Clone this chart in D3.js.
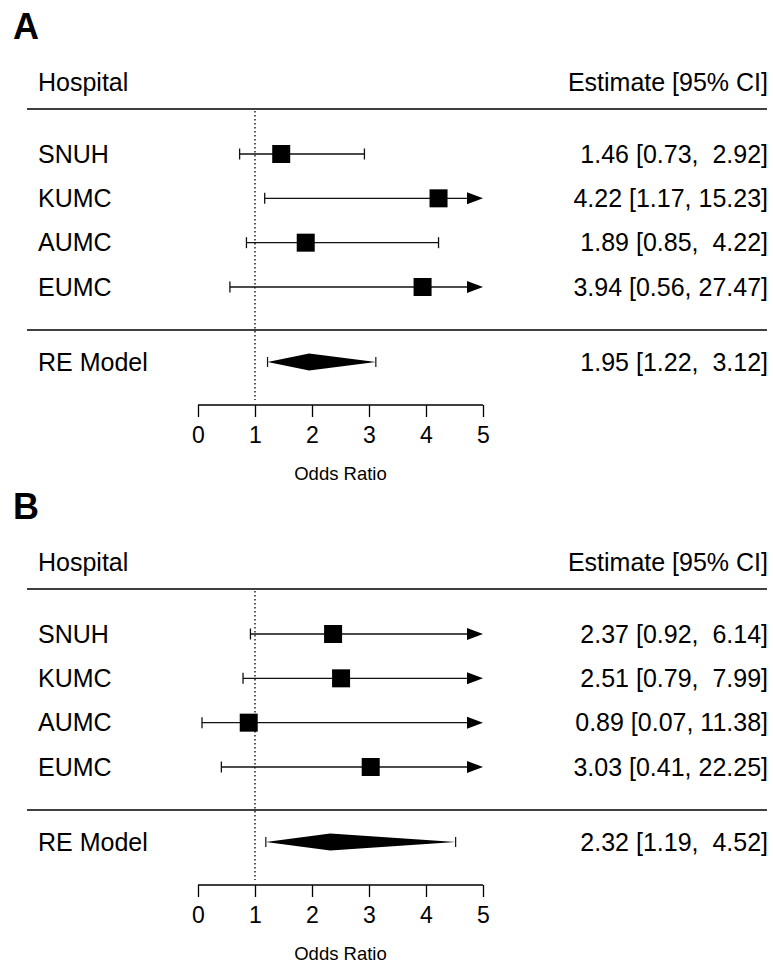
<!DOCTYPE html>
<html>
<head>
<meta charset="utf-8">
<script src="https://cdn.jsdelivr.net/npm/d3@7"></script>
<style>
  body { margin: 0; background: #fff; }
  text { font-family: "Liberation Sans", Arial, sans-serif; fill: #000; white-space: pre; }
</style>
</head>
<body>
<svg id="chart" width="773" height="963"></svg>
<script>
// Data
var hospitals = ["SNUH", "KUMC", "AUMC", "EUMC"]
var panelLabels = ["A", "B"]
var estA = [1.46, 4.22, 1.89, 3.94]
var lowA = [0.73, 1.17, 0.85, 0.56]
var highA = [2.92, 15.23, 4.22, 27.47]
var reA = [1.95, 1.22, 3.12]
var estB = [2.37, 2.51, 0.89, 3.03]
var lowB = [0.92, 0.79, 0.07, 0.41]
var highB = [6.14, 7.99, 11.38, 22.25]
var reB = [2.32, 1.19, 4.52]
var ticks = [0, 1, 2, 3, 4, 5]

var panels = [
  {label: panelLabels[0], est: estA, low: lowA, high: highA, re: reA, top: 0},
  {label: panelLabels[1], est: estB, low: lowB, high: highB, re: reB, top: 480}
]

var svg = d3.select("#chart")
var x = d3.scaleLinear().domain([0, 5]).range([198, 483])
var fmt = d3.format(".2f")
var fs = 25

function ciText(e, l, h) {
  // R pads the numbers to a common width
  var hs = fmt(h)
  if (hs.length < 5) hs = " " + hs
  return fmt(e) + " [" + fmt(l) + ", " + hs + "]"
}

panels.forEach(function(p) {
  var g = svg.append("g").attr("transform", "translate(0," + p.top + ")")
  var y = d3.scaleLinear().domain([4, 1]).range([154, 287])
  var yRE = 362, yAxis = 405

  g.append("text").attr("x", 13).attr("y", 39)
    .attr("font-size", 36).attr("font-weight", "bold").text(p.label)

  g.append("text").attr("x", 38).attr("y", 82).attr("dy", "0.35em")
    .attr("font-size", fs).text("Hospital")
  g.append("text").attr("x", 768).attr("y", 82).attr("dy", "0.35em")
    .attr("text-anchor", "end").attr("font-size", fs).text("Estimate [95% CI]")

  g.selectAll("line.sep").data([109, 330]).join("line").attr("class", "sep")
    .attr("x1", 27).attr("x2", 767).attr("y1", d => d).attr("y2", d => d)
    .attr("stroke", "#000").attr("stroke-width", 1.3)

  // reference line at OR = 1
  g.append("line").attr("x1", x(1)).attr("x2", x(1)).attr("y1", 111).attr("y2", 400)
    .attr("stroke", "#000").attr("stroke-width", 1.3).attr("stroke-dasharray", "1.5,2.5")

  var rows = hospitals.map(function(h, i) {
    return {name: h, row: 4 - i, est: p.est[i], low: p.low[i], high: p.high[i]}
  })

  var r = g.selectAll("g.row").data(rows).join("g").attr("class", "row")
    .attr("transform", d => "translate(0," + y(d.row) + ")")

  r.append("text").attr("x", 38).attr("dy", "0.35em").attr("font-size", fs)
    .text(d => d.name)
  r.append("text").attr("x", 768).attr("dy", "0.35em").attr("font-size", fs)
    .attr("text-anchor", "end").text(d => ciText(d.est, d.low, d.high))

  r.append("line")
    .attr("x1", d => x(d.low))
    .attr("x2", d => d.high > 5 ? x(5) - 14 : x(d.high))
    .attr("stroke", "#111").attr("stroke-width", 1.3)
  r.append("line").attr("x1", d => x(d.low)).attr("x2", d => x(d.low))
    .attr("y1", -5.5).attr("y2", 5.5).attr("stroke", "#111").attr("stroke-width", 1.3)
  r.filter(d => d.high <= 5).append("line")
    .attr("x1", d => x(d.high)).attr("x2", d => x(d.high))
    .attr("y1", -5.5).attr("y2", 5.5).attr("stroke", "#111").attr("stroke-width", 1.3)
  r.filter(d => d.high > 5).append("path")
    .attr("d", "M" + (x(5) - 16) + ",-6L" + x(5) + ",0L" + (x(5) - 16) + ",6Z")
    .attr("fill", "#000")
  r.append("rect")
    .attr("x", d => x(d.est) - 9).attr("y", -9).attr("width", 18).attr("height", 18)
    .attr("fill", "#000")

  // summary diamond
  var re = g.append("g").attr("transform", "translate(0," + yRE + ")")
  re.append("text").attr("x", 38).attr("dy", "0.35em").attr("font-size", fs).text("RE Model")
  re.append("text").attr("x", 768).attr("dy", "0.35em").attr("font-size", fs)
    .attr("text-anchor", "end").text(ciText(p.re[0], p.re[1], p.re[2]))
  re.append("path")
    .attr("d", "M" + x(p.re[1]) + ",0L" + x(p.re[0]) + ",-8.5L" + x(p.re[2]) + ",0L" + x(p.re[0]) + ",8.5Z")
    .attr("fill", "#000")
  re.selectAll("line").data([p.re[1], p.re[2]]).join("line")
    .attr("x1", d => x(d)).attr("x2", d => x(d)).attr("y1", -5).attr("y2", 5)
    .attr("stroke", "#111").attr("stroke-width", 1.2)

  // axis
  var ax = g.append("g").attr("transform", "translate(0," + yAxis + ")")
    .call(d3.axisBottom(x).tickValues(ticks).tickSize(12).tickPadding(10).tickFormat(d3.format("d")))
  ax.select(".domain").attr("d", "M" + x(0) + ",0H" + x(5)).attr("stroke-width", 1.3)
  ax.selectAll(".tick line").attr("stroke-width", 1.3)
  ax.selectAll(".tick text").attr("font-size", 23)
    .attr("font-family", "Liberation Sans, Arial, sans-serif")
  g.append("text").attr("x", x(2.5)).attr("y", 474).attr("dy", "0.35em")
    .attr("text-anchor", "middle").attr("font-size", 18.5).text("Odds Ratio")
})
</script>
</body>
</html>
